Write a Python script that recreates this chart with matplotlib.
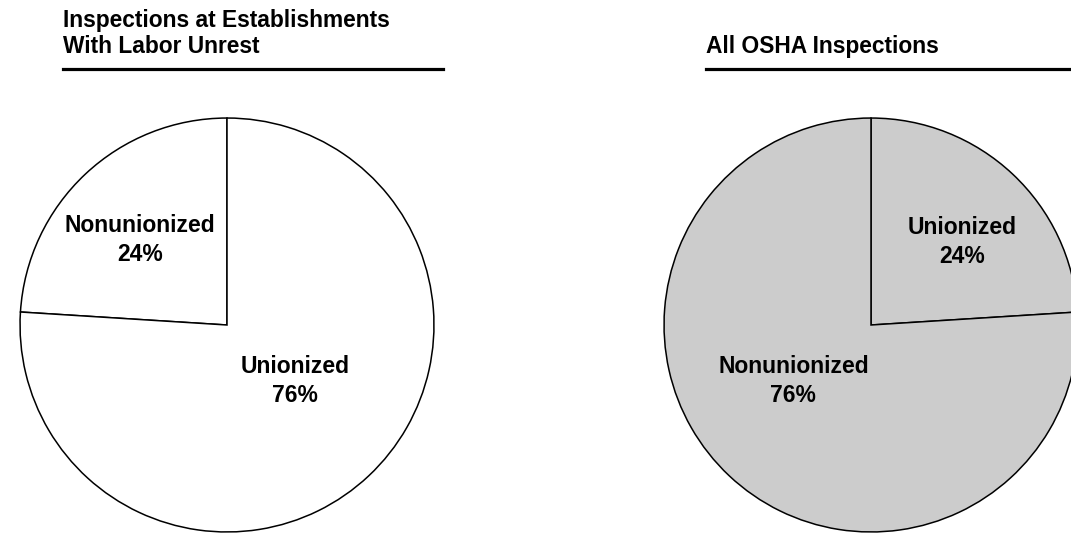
import matplotlib
matplotlib.use("Agg")
import matplotlib.pyplot as plt
from matplotlib.lines import Line2D

plt.rcParams['font.family'] = ['Liberation Sans', 'DejaVu Sans']

W, H = 1071, 535

left_title = "Inspections at Establishments\nWith Labor Unrest"
left_labels = ["Nonunionized", "Unionized"]
left_values = [24, 76]

right_title = "All OSHA Inspections"
right_labels = ["Unionized", "Nonunionized"]
right_values = [24, 76]

fig = plt.figure(figsize=(W / 100, H / 100), dpi=100)

def px_axes(cx, cy, r):
    return fig.add_axes([(cx - r) / W, (H - cy - r) / H, 2 * r / W, 2 * r / H])

def draw_pie(ax, values, labels, color, counterclock, label_pos):
    wedges, _ = ax.pie(values, startangle=90, counterclock=counterclock,
                       colors=[color] * len(values),
                       wedgeprops=dict(edgecolor='black', linewidth=1.1),
                       radius=1.0, center=(0, 0), frame=False)
    ax.set_xlim(-1.005, 1.005)
    ax.set_ylim(-1.005, 1.005)
    ax.set_aspect('equal')
    ax.axis('off')
    for lab, v, (x, y) in zip(labels, values, label_pos):
        ax.text(x, y, f"{lab}\n{v}%", ha='center', va='center',
                fontsize=16.5, fontweight='bold', linespacing=1.35)

R = 208
axL = px_axes(227, 325, R)
draw_pie(axL, left_values, left_labels, 'white', True,
         [(-0.42, 0.41), (0.33, -0.27)])
axR = px_axes(871, 325, R)
draw_pie(axR, right_values, right_labels, '#cccccc', False,
         [(0.44, 0.40), (-0.375, -0.27)])

# Titles
fig.text(63 / W, 1 - 53 / H, left_title, ha='left', va='baseline',
         fontsize=16.4, fontweight='bold', linespacing=1.15)
fig.text(706 / W, 1 - 53 / H, right_title, ha='left', va='baseline',
         fontsize=16.4, fontweight='bold')

# Underlines
fig.add_artist(Line2D([63 / W, 443 / W], [1 - 69 / H, 1 - 69 / H],
                      transform=fig.transFigure, color='black', linewidth=2.3))
fig.add_artist(Line2D([706 / W, 1.0], [1 - 69 / H, 1 - 69 / H],
                      transform=fig.transFigure, color='black', linewidth=2.3))

fig.savefig("out.png", dpi=100, facecolor='white')
